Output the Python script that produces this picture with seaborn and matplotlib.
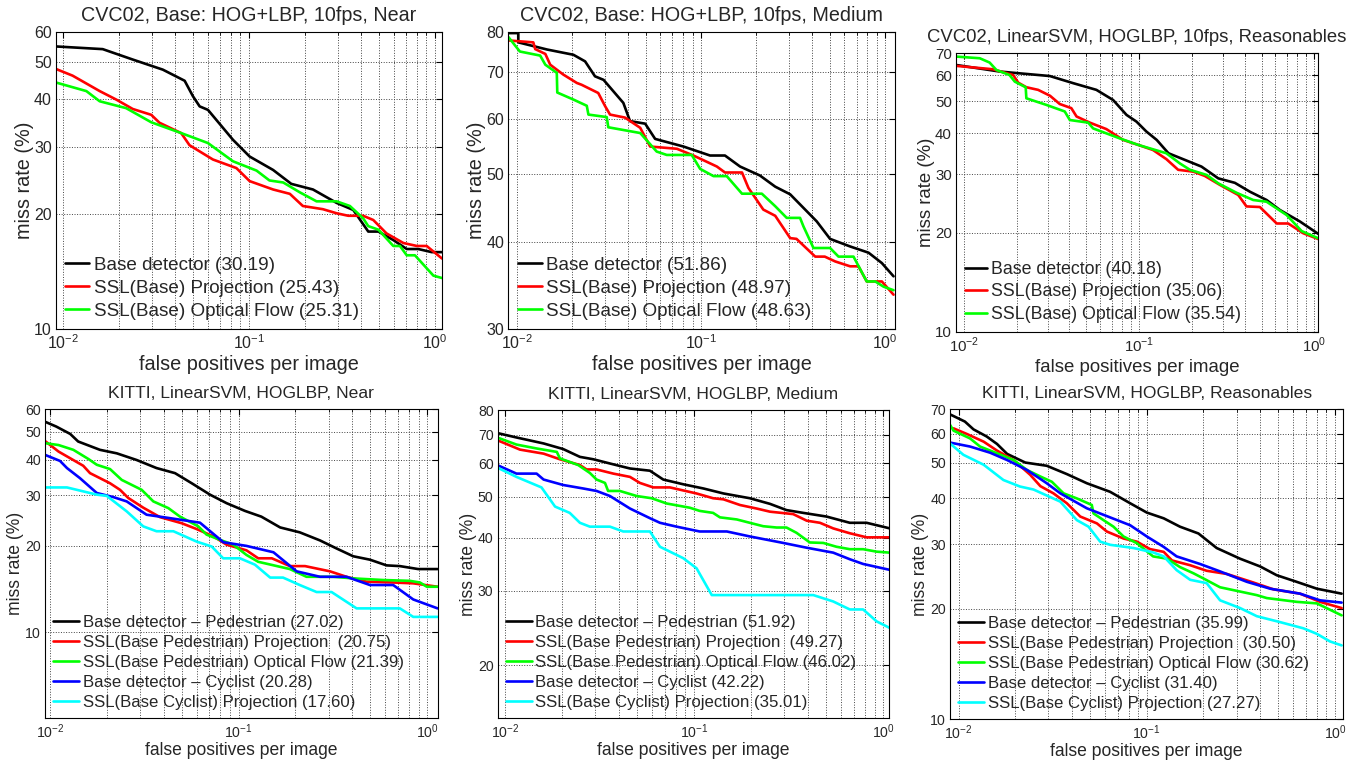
import matplotlib
matplotlib.use('Agg')
import matplotlib.pyplot as plt
import seaborn as sns
from matplotlib.ticker import FixedLocator, NullLocator, LogLocator, NullFormatter

sns.set_style('white')
plt.rcParams['font.family'] = ['Liberation Sans', 'DejaVu Sans']
plt.rcParams['mathtext.fontset'] = 'custom'
plt.rcParams['mathtext.rm'] = 'Liberation Sans'

# ---------------- CVC02, Near ----------------
p1_base_x = [0.0091, 0.0164, 0.0238, 0.0345, 0.0452, 0.0501, 0.0544, 0.0603, 0.0822, 0.101, 0.135, 0.169, 0.221, 0.296, 0.364, 0.438, 0.497, 0.597, 0.705, 0.813, 0.96, 1.09]
p1_base_y = [55.0, 54.1, 50.8, 47.8, 44.7, 40.7, 38.3, 37.5, 31.3, 28.3, 26.1, 24.0, 23.2, 21.4, 20.5, 18.0, 18.0, 17.1, 16.2, 16.2, 15.9, 15.9]
p1_proj_x = [0.0091, 0.0113, 0.0158, 0.0194, 0.0238, 0.0299, 0.0331, 0.0433, 0.048, 0.0641, 0.0857, 0.101, 0.135, 0.166, 0.195, 0.25, 0.296, 0.342, 0.411, 0.466, 0.549, 0.676, 0.8, 0.902, 1.09]
p1_proj_y = [48.1, 46.1, 42.0, 39.9, 37.7, 36.4, 34.7, 32.6, 30.3, 27.8, 26.4, 24.4, 23.2, 22.6, 21.0, 20.6, 20.1, 19.8, 19.8, 19.3, 17.8, 16.8, 16.5, 16.5, 15.3]
p1_flow_x = [0.0091, 0.0134, 0.0158, 0.0219, 0.0299, 0.0433, 0.048, 0.0603, 0.0822, 0.11, 0.129, 0.153, 0.188, 0.231, 0.296, 0.349, 0.411, 0.438, 0.497, 0.597, 0.648, 0.705, 0.78, 0.98, 1.09]
p1_flow_y = [44.3, 42.0, 39.5, 37.9, 34.8, 32.6, 32.0, 30.7, 27.5, 26.0, 24.5, 24.2, 22.8, 21.6, 21.6, 21.0, 19.5, 18.6, 18.2, 16.5, 16.5, 15.6, 15.6, 13.8, 13.6]

# ---------------- CVC02, Medium ----------------
p2_base_x = [0.009, 0.0102, 0.0102, 0.0146, 0.0203, 0.0235, 0.0266, 0.0296, 0.0379, 0.0412, 0.0498, 0.0564, 0.0804, 0.112, 0.135, 0.163, 0.209, 0.253, 0.305, 0.425, 0.502, 0.645, 0.812, 0.959, 1.11]
p2_base_y = [79.7, 79.7, 77.3, 75.5, 74.2, 72.6, 69.1, 68.3, 63.3, 59.6, 59.1, 56.2, 54.8, 53.2, 53.2, 51.3, 49.8, 48.0, 46.8, 42.8, 40.4, 39.4, 38.6, 37.3, 35.7]
p2_proj_x = [0.009, 0.0123, 0.0126, 0.0143, 0.0152, 0.0179, 0.0212, 0.0225, 0.0277, 0.0302, 0.0321, 0.0387, 0.0468, 0.053, 0.074, 0.091, 0.122, 0.135, 0.167, 0.181, 0.218, 0.253, 0.305, 0.33, 0.417, 0.47, 0.535, 0.645, 0.716, 0.794, 0.959, 1.11]
p2_proj_y = [77.8, 77.3, 75.6, 74.4, 71.8, 69.5, 67.6, 67.2, 65.4, 62.6, 60.9, 60.3, 58.3, 54.8, 54.4, 53.2, 51.3, 50.3, 50.3, 47.8, 44.5, 43.6, 40.5, 40.4, 38.1, 38.1, 37.5, 36.9, 36.9, 35.1, 35.1, 33.6]
p2_flow_x = [0.009, 0.0104, 0.0134, 0.0143, 0.0165, 0.0166, 0.0203, 0.024, 0.0245, 0.0308, 0.0314, 0.0468, 0.0575, 0.0652, 0.0891, 0.099, 0.117, 0.138, 0.167, 0.214, 0.253, 0.292, 0.345, 0.36, 0.408, 0.502, 0.558, 0.673, 0.794, 0.883, 0.98, 1.11]
p2_flow_y = [78.7, 75.0, 74.0, 71.8, 69.9, 65.5, 64.0, 62.7, 60.9, 60.4, 58.4, 57.3, 53.9, 53.3, 53.3, 50.9, 49.7, 49.7, 46.9, 46.9, 45.0, 43.3, 43.3, 42.1, 39.2, 39.2, 38.1, 38.1, 35.1, 35.1, 34.5, 34.1]

# ---------------- CVC02, Reasonables ----------------
p3_base_x = [0.009, 0.016, 0.0309, 0.042, 0.057, 0.071, 0.0847, 0.0966, 0.110, 0.126, 0.147, 0.178, 0.227, 0.283, 0.352, 0.429, 0.534, 0.637, 0.828, 1.055]
p3_base_y = [64.5, 61.6, 59.7, 56.8, 54.2, 50.5, 45.5, 43.4, 40.5, 38.2, 34.8, 33.4, 31.7, 29.2, 28.3, 26.6, 25.1, 23.4, 21.6, 19.8]
p3_proj_x = [0.009, 0.0146, 0.0191, 0.0204, 0.0227, 0.0265, 0.031, 0.0352, 0.041, 0.0439, 0.0523, 0.065, 0.081, 0.0986, 0.120, 0.143, 0.167, 0.204, 0.237, 0.289, 0.368, 0.41, 0.489, 0.61, 0.71, 0.865, 1.055]
p3_proj_y = [64.1, 62.6, 60.1, 57.0, 55.2, 54.2, 52.0, 49.1, 47.7, 45.0, 43.1, 41.2, 38.2, 36.9, 35.6, 33.4, 31.0, 30.6, 29.7, 27.9, 26.0, 24.0, 23.9, 21.3, 21.3, 19.9, 19.1]
p3_flow_x = [0.009, 0.0123, 0.014, 0.0153, 0.0182, 0.0195, 0.0225, 0.0227, 0.0295, 0.0376, 0.0402, 0.0512, 0.0546, 0.0776, 0.0986, 0.143, 0.171, 0.195, 0.243, 0.283, 0.36, 0.448, 0.534, 0.695, 0.847, 1.055]
p3_flow_y = [68.4, 67.6, 65.6, 62.3, 60.1, 57.4, 55.2, 51.1, 48.8, 46.6, 43.9, 43.1, 41.4, 38.6, 36.9, 34.8, 32.4, 31.0, 29.9, 28.2, 26.4, 25.1, 24.8, 22.6, 20.2, 19.2]

# ---------------- KITTI, Near ----------------
p4_base_x = [0.0094, 0.0108, 0.0128, 0.0141, 0.0184, 0.0226, 0.0288, 0.0367, 0.046, 0.0564, 0.0705, 0.0863, 0.108, 0.132, 0.166, 0.211, 0.27, 0.33, 0.405, 0.497, 0.608, 0.716, 0.895, 1.135]
p4_base_y = [54.3, 52.2, 49.2, 46.3, 43.3, 42.1, 39.9, 37.4, 35.9, 33.1, 30.2, 28.2, 26.5, 25.3, 23.2, 22.3, 20.9, 19.6, 18.4, 17.9, 17.1, 17.0, 16.6, 16.6]
p4_proj_x = [0.0094, 0.0111, 0.015, 0.0163, 0.0208, 0.0235, 0.026, 0.0312, 0.0383, 0.0499, 0.0599, 0.0734, 0.0863, 0.110, 0.127, 0.15, 0.187, 0.225, 0.305, 0.373, 0.476, 0.66, 0.843, 1.135]
p4_proj_y = [46.5, 42.7, 38.1, 35.9, 33.1, 31.4, 29.4, 27.2, 25.2, 24.0, 22.9, 21.6, 20.2, 19.3, 18.1, 18.1, 17.0, 17.0, 16.3, 15.6, 15.0, 14.9, 14.8, 14.4]
p4_flow_x = [0.0094, 0.0111, 0.0133, 0.016, 0.0177, 0.0208, 0.024, 0.0306, 0.0353, 0.0424, 0.0489, 0.0611, 0.0676, 0.0796, 0.0937, 0.110, 0.127, 0.166, 0.187, 0.229, 0.318, 0.405, 0.585, 0.809, 0.915, 0.995, 1.135]
p4_flow_y = [45.7, 45.0, 43.3, 40.2, 38.4, 37.1, 34.0, 31.4, 28.6, 27.1, 25.3, 23.4, 21.9, 21.0, 20.2, 18.6, 17.6, 16.9, 16.6, 15.6, 15.6, 15.4, 15.2, 15.1, 14.9, 14.4, 14.4]
p4_cyc_x = [0.0094, 0.0113, 0.0123, 0.0144, 0.0177, 0.0217, 0.0255, 0.0325, 0.0415, 0.0624, 0.083, 0.110, 0.153, 0.203, 0.27, 0.373, 0.497, 0.66, 0.843, 1.135]
p4_cyc_y = [41.6, 39.6, 37.4, 34.5, 30.6, 29.6, 28.6, 25.7, 25.1, 24.1, 20.6, 20.0, 19.0, 16.3, 15.6, 15.6, 14.6, 14.6, 13.0, 12.1]
p4_cproj_x = [0.0094, 0.0123, 0.0177, 0.02, 0.0255, 0.0312, 0.0367, 0.0451, 0.0599, 0.072, 0.0828, 0.1016, 0.122, 0.147, 0.172, 0.211, 0.259, 0.311, 0.422, 0.716, 0.843, 1.135]
p4_cproj_y = [32.0, 32.0, 30.2, 29.9, 26.4, 23.4, 22.5, 22.5, 20.7, 19.9, 18.1, 18.1, 17.2, 15.5, 15.5, 14.6, 13.8, 13.8, 12.1, 12.1, 11.3, 11.3]

# ---------------- KITTI, Medium ----------------
p5_base_x = [0.0091, 0.0115, 0.016, 0.0203, 0.0249, 0.0293, 0.0359, 0.0458, 0.0584, 0.0687, 0.0877, 0.112, 0.143, 0.197, 0.252, 0.308, 0.378, 0.501, 0.666, 0.817, 1.084]
p5_base_y = [70.7, 69.0, 66.8, 64.8, 62.1, 61.3, 59.9, 58.3, 57.6, 54.9, 53.5, 52.3, 50.9, 49.6, 48.1, 46.5, 45.8, 44.9, 43.4, 43.4, 42.1]
p5_proj_x = [0.0091, 0.012, 0.016, 0.0195, 0.0249, 0.027, 0.0305, 0.0374, 0.0458, 0.0517, 0.0608, 0.0745, 0.103, 0.126, 0.143, 0.175, 0.214, 0.252, 0.334, 0.394, 0.463, 0.544, 0.666, 0.817, 1.084]
p5_proj_y = [68.0, 64.6, 63.2, 61.3, 59.4, 58.0, 58.0, 56.7, 55.7, 53.9, 52.6, 52.6, 50.9, 49.6, 49.3, 47.8, 46.9, 46.1, 45.5, 43.9, 43.4, 42.1, 41.0, 40.1, 40.1]
p5_flow_x = [0.0091, 0.0115, 0.0147, 0.0188, 0.0195, 0.0244, 0.0281, 0.0305, 0.0338, 0.0351, 0.0405, 0.0497, 0.0596, 0.0716, 0.095, 0.107, 0.126, 0.137, 0.168, 0.197, 0.232, 0.273, 0.308, 0.348, 0.409, 0.482, 0.566, 0.666, 0.783, 0.923, 1.084]
p5_flow_y = [69.0, 66.4, 65.0, 63.8, 61.6, 59.4, 56.9, 54.9, 53.9, 51.6, 51.6, 50.2, 49.6, 48.2, 47.1, 46.3, 45.8, 44.7, 44.2, 43.4, 42.6, 42.3, 42.3, 41.1, 39.0, 38.9, 38.1, 37.6, 37.6, 37.1, 36.9]
p5_cyc_x = [0.0091, 0.0115, 0.0147, 0.016, 0.0203, 0.0259, 0.0305, 0.0359, 0.0458, 0.0584, 0.066, 0.0808, 0.107, 0.149, 0.197, 0.296, 0.394, 0.544, 0.666, 0.783, 1.084]
p5_cyc_y = [59.4, 56.7, 56.7, 54.9, 53.3, 52.3, 51.6, 50.2, 46.9, 44.5, 43.4, 42.5, 41.4, 41.4, 40.3, 38.9, 37.9, 36.9, 35.6, 34.7, 33.6]
p5_cproj_x = [0.0091, 0.0115, 0.0156, 0.0184, 0.022, 0.0249, 0.0281, 0.0359, 0.0422, 0.0584, 0.066, 0.0877, 0.103, 0.124, 0.427, 0.544, 0.666, 0.783, 0.923, 1.084]
p5_cproj_y = [58.6, 55.7, 52.6, 47.4, 45.8, 43.4, 42.5, 42.5, 41.4, 41.4, 38.1, 35.8, 33.9, 29.3, 29.3, 28.3, 27.1, 27.1, 25.4, 24.5]

# ---------------- KITTI, Reasonables ----------------
p6_base_x = [0.009, 0.0108, 0.012, 0.0141, 0.016, 0.0181, 0.0226, 0.0294, 0.0376, 0.048, 0.0638, 0.0816, 0.1, 0.123, 0.15, 0.188, 0.235, 0.313, 0.4, 0.49, 0.625, 0.8, 1.084]
p6_base_y = [67.8, 64.8, 61.7, 59.0, 56.3, 52.9, 50.1, 49.1, 46.6, 44.0, 41.7, 38.8, 36.6, 35.3, 33.5, 32.1, 29.3, 27.4, 26.1, 24.7, 23.7, 22.7, 22.0]
p6_proj_x = [0.0094, 0.0111, 0.0136, 0.016, 0.0196, 0.024, 0.0272, 0.0319, 0.0376, 0.0443, 0.0543, 0.0613, 0.0752, 0.0885, 0.104, 0.123, 0.136, 0.17, 0.208, 0.266, 0.368, 0.471, 0.652, 0.832, 1.084]
p6_proj_y = [62.1, 59.9, 57.1, 54.0, 50.9, 46.4, 43.2, 41.3, 38.8, 35.7, 34.2, 32.5, 31.1, 30.5, 29.1, 28.6, 27.1, 26.3, 25.4, 24.9, 23.6, 22.6, 22.0, 20.9, 20.1]
p6_flow_x = [0.009, 0.0094, 0.0115, 0.013, 0.016, 0.0196, 0.0231, 0.0272, 0.0313, 0.0361, 0.0425, 0.051, 0.0521, 0.0589, 0.0665, 0.0752, 0.0885, 0.108, 0.128, 0.15, 0.177, 0.2, 0.245, 0.384, 0.434, 0.625, 0.8, 1.084]
p6_flow_y = [63.5, 61.2, 58.3, 55.4, 53.1, 50.9, 47.8, 45.9, 44.4, 41.3, 40.0, 38.4, 36.4, 34.9, 33.5, 31.5, 30.2, 27.8, 27.4, 26.0, 25.0, 24.2, 22.9, 21.8, 21.4, 20.9, 20.7, 19.2]
p6_cyc_x = [0.009, 0.0115, 0.0147, 0.0181, 0.0231, 0.0294, 0.0347, 0.048, 0.0613, 0.0816, 0.1, 0.123, 0.144, 0.192, 0.245, 0.34, 0.452, 0.652, 0.832, 1.084]
p6_cyc_y = [56.8, 55.4, 53.3, 50.9, 47.8, 44.0, 41.3, 37.6, 35.8, 33.8, 31.5, 29.5, 27.8, 26.5, 25.3, 23.7, 22.7, 22.0, 21.1, 20.8]
p6_cproj_x = [0.009, 0.0106, 0.0136, 0.0173, 0.0212, 0.025, 0.0347, 0.0425, 0.049, 0.0565, 0.0638, 0.085, 0.108, 0.123, 0.144, 0.17, 0.208, 0.245, 0.313, 0.384, 0.511, 0.679, 0.8, 0.94, 1.084]
p6_cproj_y = [56.5, 52.6, 49.4, 44.9, 43.1, 42.3, 39.2, 34.9, 33.5, 30.5, 29.9, 29.3, 28.5, 27.8, 25.5, 24.0, 23.5, 21.1, 20.1, 19.1, 18.4, 17.7, 17.1, 16.3, 15.9]

titles = ['CVC02, Base: HOG+LBP, 10fps, Near', 'CVC02, Base: HOG+LBP, 10fps, Medium',
          'CVC02, LinearSVM, HOGLBP, 10fps, Reasonables',
          'KITTI, LinearSVM, HOGLBP, Near', 'KITTI, LinearSVM, HOGLBP, Medium',
          'KITTI, LinearSVM, HOGLBP, Reasonables']

cvc_labels = [['Base detector (30.19)', 'SSL(Base) Projection (25.43)', 'SSL(Base) Optical Flow (25.31)'],
              ['Base detector (51.86)', 'SSL(Base) Projection (48.97)', 'SSL(Base) Optical Flow (48.63)'],
              ['Base detector (40.18)', 'SSL(Base) Projection (35.06)', 'SSL(Base) Optical Flow (35.54)']]
kitti_labels = [['Base detector \u2013 Pedestrian (27.02)', 'SSL(Base Pedestrian) Projection  (20.75)',
                 'SSL(Base Pedestrian) Optical Flow (21.39)', 'Base detector \u2013 Cyclist (20.28)',
                 'SSL(Base Cyclist) Projection (17.60)'],
                ['Base detector \u2013 Pedestrian (51.92)', 'SSL(Base Pedestrian) Projection  (49.27)',
                 'SSL(Base Pedestrian) Optical Flow (46.02)', 'Base detector \u2013 Cyclist (42.22)',
                 'SSL(Base Cyclist) Projection (35.01)'],
                ['Base detector \u2013 Pedestrian (35.99)', 'SSL(Base Pedestrian) Projection  (30.50)',
                 'SSL(Base Pedestrian) Optical Flow (30.62)', 'Base detector \u2013 Cyclist (31.40)',
                 'SSL(Base Cyclist) Projection (27.27)']]

colors = ['#000000', '#ff0000', '#00ff00', '#0000ff', '#00ffff']

curves = [
    [(p1_base_x, p1_base_y), (p1_proj_x, p1_proj_y), (p1_flow_x, p1_flow_y)],
    [(p2_base_x, p2_base_y), (p2_proj_x, p2_proj_y), (p2_flow_x, p2_flow_y)],
    [(p3_base_x, p3_base_y), (p3_proj_x, p3_proj_y), (p3_flow_x, p3_flow_y)],
    [(p4_base_x, p4_base_y), (p4_proj_x, p4_proj_y), (p4_flow_x, p4_flow_y), (p4_cyc_x, p4_cyc_y), (p4_cproj_x, p4_cproj_y)],
    [(p5_base_x, p5_base_y), (p5_proj_x, p5_proj_y), (p5_flow_x, p5_flow_y), (p5_cyc_x, p5_cyc_y), (p5_cproj_x, p5_cproj_y)],
    [(p6_base_x, p6_base_y), (p6_proj_x, p6_proj_y), (p6_flow_x, p6_flow_y), (p6_cyc_x, p6_cyc_y), (p6_cproj_x, p6_cproj_y)],
]
labels = cvc_labels + kitti_labels

xlims = [(0.0092, 1.09), (0.009, 1.13), (0.009, 1.054), (0.0094, 1.135), (0.00915, 1.076), (0.009, 1.107)]
ylims = [(10, 60), (30, 80), (10, 70), (5, 60), (15, 80), (10, 70)]
yticks = [[10, 20, 30, 40, 50, 60], [30, 40, 50, 60, 70, 80], [10, 20, 30, 40, 50, 60, 70],
          [10, 20, 30, 40, 50, 60], [20, 30, 40, 50, 60, 70, 80], [10, 20, 30, 40, 50, 60, 70]]

rects = [[0.0411, 0.5688, 0.2834, 0.3893], [0.3732, 0.5688, 0.2839, 0.3893], [0.7019, 0.5653, 0.2660, 0.3649],
         [0.0330, 0.0586, 0.2883, 0.4050], [0.3654, 0.0586, 0.2875, 0.4037], [0.6975, 0.0573, 0.2888, 0.4063]]
# each sub-figure was pasted at its own scale
scales = [1.0, 1.0, 0.94, 0.885, 0.885, 0.885]

fig = plt.figure(figsize=(13.62, 7.63), dpi=100)

for i in range(6):
    s = scales[i]
    ax = fig.add_axes(rects[i])
    for j, (xs, ys) in enumerate(curves[i]):
        sns.lineplot(x=xs, y=ys, ax=ax, estimator=None, sort=False, color=colors[j],
                     linewidth=1.9, label=labels[i][j])
    ax.set_xscale('log')
    ax.set_yscale('log')
    ax.set_xlim(*xlims[i])
    ax.set_ylim(*ylims[i])
    ax.xaxis.set_major_locator(FixedLocator([0.01, 0.1, 1.0]))
    ax.xaxis.set_minor_locator(LogLocator(base=10, subs=range(2, 10)))
    ax.xaxis.set_minor_formatter(NullFormatter())
    ax.set_xticklabels(['$10^{-2}$', '$10^{-1}$', '$10^{0}$'])
    ax.yaxis.set_major_locator(FixedLocator(yticks[i]))
    ax.yaxis.set_minor_locator(NullLocator())
    ax.set_yticklabels([str(t) for t in yticks[i]])
    ax.grid(True, which='major', axis='both', linestyle=':', color='#444444', linewidth=0.7)
    ax.grid(True, which='minor', axis='x', linestyle=':', color='#444444', linewidth=0.7)
    ax.tick_params(which='both', direction='in', top=True, right=True, labelsize=11.5 * s,
                   color='black', pad=3)
    ax.tick_params(which='major', length=4)
    ax.tick_params(which='minor', length=2)
    for sp in ax.spines.values():
        sp.set_color('black')
        sp.set_linewidth(0.8)
    ax.set_title(titles[i], fontsize=14.2 * s, pad=8)
    ax.set_xlabel('false positives per image', fontsize=14.3 * s, labelpad=2.5 if i < 3 else 0.5)
    ax.set_ylabel('miss rate (%)', fontsize=14.3 * s, labelpad=0 if i < 3 else 0.5)
    if i < 3:
        ax.legend(loc='lower left', frameon=False, fontsize=13.6 * s, handlelength=1.27,
                  handletextpad=0.23, labelspacing=0.3, borderaxespad=0.3, borderpad=0.2)
    else:
        ax.legend(loc='lower left', frameon=False, fontsize=13.6 * s, handlelength=1.56,
                  handletextpad=0.2, labelspacing=0.3, borderaxespad=0.3, borderpad=0.2)

fig.savefig('out.png', dpi=100)
